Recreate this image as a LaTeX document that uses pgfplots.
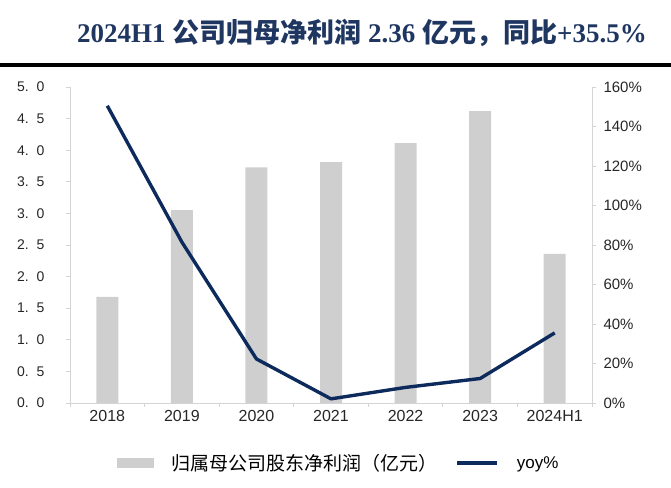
\documentclass[border=0pt]{standalone}
\usepackage{fontspec}
\usepackage{pgfplots}
\pgfplotsset{compat=1.18}
\setmainfont{Liberation Sans}
\newfontfamily\cjk{Noto Sans CJK SC}
\newfontfamily\cjkb{Noto Sans CJK SC Bold}
\newfontfamily\tserif{Liberation Serif}
\definecolor{navy}{HTML}{0D2A5C}
\definecolor{titlec}{HTML}{1F3660}
\definecolor{bargray}{HTML}{CFCFCF}
\definecolor{axgray}{HTML}{D4D4D4}
\newcommand{\dg}[2]{#1.\hspace{8pt}#2}
\begin{document}
\begin{tikzpicture}
\useasboundingbox (0pt,0pt) rectangle (671pt,487pt);
\fill[black] (0pt,420pt) rectangle (671pt,423.5pt);
\node[anchor=base east, text=titlec, inner sep=0pt] at (647pt,444pt) {\fontsize{27}{30}\selectfont\bfseries\tserif 2024H1 {\cjkb 公司归母净利润} 2.36 {\cjkb 亿元，同比}+35.5\%};
\begin{axis}[
  at={(70pt,84pt)}, anchor=south west, width=522pt, height=316pt, scale only axis,
  xmin=-0.5, xmax=6.5, ymin=0, ymax=5,
  axis x line*=bottom, axis y line*=left,
  axis line style={axgray, line width=0.8pt},
  xtick={-0.5,0.5,...,6.5}, xticklabels={},
  extra x ticks={0,...,6},
  extra x tick labels={2018,2019,2020,2021,2022,2023,2024H1},
  extra x tick style={major tick length=0pt},
  ytick={0,0.5,...,5},
  yticklabels={\dg00,\dg05,\dg10,\dg15,\dg20,\dg25,\dg30,\dg35,\dg40,\dg45,\dg50},
  tick style={axgray, line width=0.8pt},
  tick align=outside, major tick length=4pt,
  yticklabel style={font=\fontsize{14}{16}\selectfont, text=black!85, xshift=-18pt},
  xticklabel style={font=\fontsize{16}{18}\selectfont, text=black!85, yshift=-4pt},
]
\addplot[ybar, bar width=22pt, fill=bargray, draw=none] coordinates {
(0,1.68) (1,3.05) (2,3.73) (3,3.81) (4,4.11) (5,4.62) (6,2.36)};
\end{axis}
\begin{axis}[
  at={(70pt,84pt)}, anchor=south west, width=522pt, height=316pt, scale only axis,
  xmin=-0.5, xmax=6.5, ymin=0, ymax=160,
  axis x line=none, axis y line*=right,
  axis line style={axgray, line width=0.8pt},
  ytick={0,20,...,160},
  yticklabels={0\%,20\%,40\%,60\%,80\%,100\%,120\%,140\%,160\%},
  tick style={axgray, line width=0.8pt},
  tick align=outside, major tick length=4pt,
  yticklabel style={font=\fontsize{15}{17}\selectfont, text=black!85, xshift=4pt},
  legend columns=2,
  legend style={at={(0.515,-0.19)}, anchor=center, draw=none, fill=none,
    font=\fontsize{17}{19}\selectfont, column sep=16pt, inner sep=0pt},
  legend cell align=left,
]
\addlegendimage{legend image code/.code={\fill[bargray] (0pt,-4.5pt) rectangle (36pt,4.5pt);}}
\addlegendentry{{\cjk\fontsize{19}{21}\selectfont 归属母公司股东净利润（亿元）}}
\addplot[navy, line width=3.4pt, line join=round, mark=none,
  legend image code/.code={\draw[navy, line width=3.4pt] (0pt,0pt) -- (40pt,0pt);}] coordinates {
(0,150.5) (1,81.5) (2,22.3) (3,2.1) (4,7.9) (5,12.4) (6,35.5)};
\addlegendentry{yoy\%}
\end{axis}
\end{tikzpicture}
\end{document}
